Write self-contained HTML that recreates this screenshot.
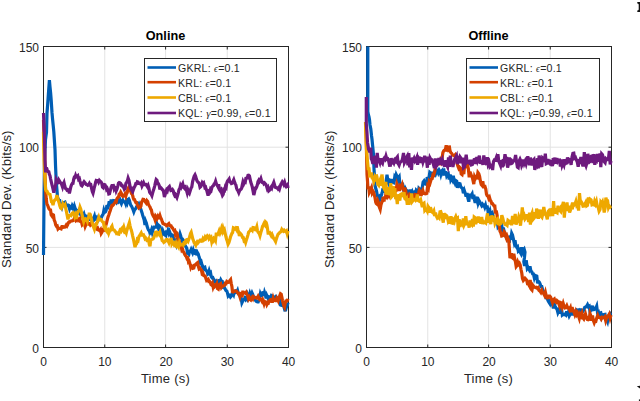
<!DOCTYPE html><html><head><meta charset="utf-8"><style>html,body{margin:0;padding:0;background:#fff;overflow:hidden}svg{display:block}text{font-family:"Liberation Sans",sans-serif;fill:#262626}</style></head><body>
<svg width="640" height="401" viewBox="0 0 640 401">
<rect width="640" height="401" fill="#fff"/>
<path d="M104.75 46V347M165.60 46V347M227.25 46V347M43 247.40H288M43 147.20H288" stroke="#e3e3e3" stroke-width="1" fill="none"/>
<rect x="43.5" y="46.5" width="245" height="301" fill="none" stroke="#262626" stroke-width="1"/>
<path d="M104.75 347.5v-3M104.75 46.5v3M165.60 347.5v-3M165.60 46.5v3M227.25 347.5v-3M227.25 46.5v3M43.5 247.40h3M288.5 247.40h-3M43.5 147.20h3M288.5 147.20h-3" stroke="#262626" stroke-width="1" fill="none"/>
<path d="M43.5,255.0 44.0,200.2 44.5,160.0 45.0,149.9 45.5,139.6 46.0,135.8 46.5,132.4 47.0,113.3 47.8,102.5 48.6,91.2 49.4,80.2 50.0,86.8 50.6,92.7 51.2,100.2 52.0,112.7 52.6,119.4 53.2,125.3 53.8,131.6 54.4,140.6 55.0,149.6 55.5,165.0 56.2,181.0 56.9,189.4 57.5,196.9 58.2,199.0 59.0,200.6 59.7,200.6 60.4,204.5 61.2,205.1 61.9,207.0 62.7,204.2 63.5,202.7 64.2,202.4 65.0,202.1 65.8,204.2 66.5,205.0 67.2,205.1 68.0,205.1 68.8,206.4 69.5,208.8 70.2,206.8 70.9,207.6 71.6,208.1 72.3,205.7 73.0,207.0 73.8,209.1 74.5,206.3 75.2,208.4 76.0,210.0 76.8,210.3 77.5,212.8 78.2,212.7 78.9,211.0 79.6,213.6 80.4,214.4 81.1,215.1 81.8,216.1 82.5,215.2 83.2,215.2 83.9,213.9 84.6,216.5 85.4,216.2 86.1,216.8 86.8,216.4 87.5,217.2 88.3,217.9 89.1,220.6 89.8,217.1 90.6,216.9 91.4,219.2 92.2,221.5 93.0,221.1 93.8,217.9 94.5,216.0 95.2,219.0 95.9,218.4 96.6,217.6 97.3,220.0 98.0,220.8 98.8,219.7 99.5,218.5 100.2,217.7 101.0,218.3 101.8,216.5 102.5,215.1 103.2,214.1 103.9,210.4 104.6,212.4 105.4,211.9 106.1,210.5 106.8,206.2 107.5,206.0 108.2,206.8 109.0,202.7 109.8,202.7 110.5,203.4 111.2,199.6 112.0,202.5 112.8,201.8 113.5,200.6 114.2,200.7 115.0,201.0 115.7,200.6 116.4,201.9 117.1,200.1 117.9,199.9 118.6,201.9 119.3,201.2 120.0,200.0 120.7,202.1 121.4,203.6 122.1,201.7 122.9,200.1 123.6,201.4 124.3,201.9 125.0,202.0 125.7,203.8 126.5,200.8 127.2,202.6 127.9,199.6 128.7,199.0 129.4,200.4 130.1,203.4 130.8,205.3 131.6,206.4 132.3,207.8 133.0,209.5 133.8,211.8 134.5,209.9 135.2,209.1 135.9,208.4 136.6,206.7 137.3,206.4 138.0,205.2 138.8,203.9 139.5,205.8 140.3,207.7 141.1,210.0 141.9,212.4 142.7,215.3 143.4,217.5 144.2,220.1 145.0,225.0 145.7,221.4 146.4,223.1 147.1,226.4 147.9,228.6 148.6,230.1 149.3,230.6 150.0,233.2 150.8,232.1 151.5,230.0 152.2,232.5 153.0,229.9 153.8,227.2 154.5,227.2 155.3,227.0 156.1,227.1 156.9,223.6 157.7,225.5 158.4,227.9 159.2,225.8 160.0,226.5 160.7,229.4 161.5,231.1 162.2,233.4 162.9,230.8 163.7,232.8 164.4,234.3 165.1,235.1 165.8,235.6 166.6,230.5 167.3,233.5 168.0,230.8 168.8,233.3 169.5,231.5 170.2,233.4 171.0,235.6 171.8,234.8 172.5,235.3 173.2,237.7 174.0,238.7 174.8,239.8 175.5,243.4 176.2,245.0 177.0,241.4 177.8,242.9 178.5,237.0 179.2,236.7 180.0,233.7 180.6,235.5 181.2,237.8 181.9,239.0 182.5,241.0 183.2,240.1 183.9,241.1 184.6,245.4 185.4,245.9 186.1,247.2 186.8,248.3 187.5,253.4 188.2,253.5 188.9,254.2 189.6,251.2 190.4,251.3 191.1,249.6 191.8,251.4 192.5,252.8 193.2,250.4 193.9,253.0 194.6,253.3 195.4,252.0 196.1,249.5 196.8,253.3 197.5,252.7 198.2,253.8 199.0,256.8 199.8,259.1 200.5,262.6 201.2,261.8 202.0,264.8 202.7,267.0 203.4,268.3 204.1,267.3 204.8,267.1 205.5,270.0 206.2,270.5 207.0,271.2 207.7,273.7 208.4,272.9 209.1,270.7 209.8,273.1 210.5,272.5 211.2,276.5 212.0,277.7 212.8,277.6 213.5,279.0 214.2,281.3 215.0,281.7 215.7,282.8 216.5,281.1 217.2,281.8 217.9,282.4 218.7,282.5 219.4,279.4 220.1,281.9 220.8,279.9 221.6,281.3 222.3,281.5 223.0,286.4 223.8,285.7 224.5,287.9 225.2,289.1 226.0,290.5 226.8,291.0 227.5,293.1 228.2,295.9 229.0,295.0 229.8,295.7 230.5,297.0 231.2,296.2 232.0,293.7 232.8,293.3 233.6,294.8 234.4,291.2 235.2,290.9 235.9,292.4 236.7,292.1 237.5,290.4 238.2,293.2 239.0,294.6 239.7,294.6 240.4,295.6 241.2,298.4 241.9,302.7 242.6,301.2 243.3,300.0 244.1,299.6 244.8,298.3 245.5,299.5 246.2,298.2 247.0,299.2 247.7,295.5 248.4,297.4 249.1,296.2 249.8,293.6 250.5,295.8 251.2,294.7 252.0,292.8 252.8,294.5 253.6,297.1 254.4,297.5 255.2,299.7 255.9,300.9 256.7,301.7 257.5,302.0 258.2,302.0 258.9,300.2 259.6,298.5 260.4,293.8 261.1,295.4 261.8,295.6 262.5,292.7 263.2,292.5 263.9,295.9 264.6,292.5 265.4,294.8 266.1,298.4 266.8,295.5 267.5,297.1 268.3,298.9 269.1,296.9 269.8,297.2 270.6,297.7 271.4,295.5 272.2,295.9 273.0,296.5 273.8,297.4 274.5,297.1 275.2,297.2 275.9,296.5 276.6,297.5 277.3,299.8 278.0,299.9 278.8,299.0 279.5,299.6 280.3,305.0 281.0,305.3 281.8,305.4 282.6,302.0 283.3,305.8 284.1,307.4 284.8,310.1 285.6,310.0 286.4,307.0 287.2,305.4 288.0,302.5" stroke="#005EB5" stroke-width="3.2" fill="none" stroke-linejoin="miter" stroke-linecap="butt"/>
<path d="M43.5,120.0 44.0,135.2 44.5,150.2 45.0,174.8 45.6,190.5 46.2,198.3 46.9,204.0 47.6,205.1 48.4,207.5 49.1,209.0 49.8,209.6 50.5,209.9 51.2,214.8 52.0,216.0 52.8,214.6 53.5,215.0 54.2,220.1 55.0,221.8 55.8,225.1 56.5,226.3 57.2,226.0 58.0,229.0 58.8,228.2 59.5,228.3 60.3,228.6 61.1,228.9 61.9,226.7 62.6,226.7 63.3,227.3 64.0,227.1 64.8,227.1 65.5,226.3 66.2,225.1 66.9,226.0 67.6,224.7 68.4,222.7 69.1,221.9 69.8,222.0 70.5,221.4 71.2,221.1 72.0,220.8 72.8,220.7 73.6,220.1 74.4,218.2 75.2,219.6 75.9,220.7 76.7,220.0 77.5,218.8 78.3,220.3 79.1,219.5 79.8,218.7 80.6,221.6 81.4,221.8 82.2,224.7 83.0,223.8 83.8,222.2 84.5,223.1 85.2,226.4 86.0,224.5 86.8,222.4 87.5,222.2 88.2,223.8 88.9,224.1 89.6,223.7 90.4,225.1 91.1,224.4 91.8,223.1 92.5,223.4 93.2,225.9 94.0,226.5 94.8,227.4 95.5,225.7 96.2,227.1 97.0,228.7 97.7,228.1 98.4,229.9 99.1,230.1 99.8,230.8 100.5,229.8 101.2,233.4 102.0,232.1 102.8,229.5 103.5,228.8 104.2,231.5 105.0,227.7 105.8,225.4 106.5,223.0 107.2,220.2 108.0,217.1 108.8,215.0 109.5,212.6 110.3,210.5 111.1,207.9 111.9,205.5 112.6,205.6 113.4,204.7 114.1,203.6 114.8,202.6 115.5,201.4 116.2,201.8 117.0,198.7 117.8,197.4 118.5,197.1 119.2,194.2 120.0,193.8 120.7,192.2 121.4,193.5 122.1,195.6 122.9,196.4 123.6,195.9 124.3,195.6 125.0,194.1 125.8,196.1 126.5,193.8 127.2,192.7 128.0,188.6 128.8,187.1 129.5,186.3 130.3,190.3 131.1,192.5 131.9,191.9 132.5,194.8 133.2,197.7 133.8,199.4 134.4,199.5 135.1,201.0 135.8,202.5 136.6,202.5 137.3,204.9 138.0,206.4 138.8,207.9 139.5,207.2 140.2,207.3 140.9,206.2 141.6,202.0 142.3,201.0 143.0,199.3 143.8,199.4 144.6,200.9 145.3,201.7 146.1,202.8 146.9,200.6 147.7,201.6 148.4,204.3 149.2,205.8 150.0,207.0 150.7,209.0 151.4,210.0 152.1,213.5 152.9,215.3 153.6,216.5 154.3,217.4 155.0,219.5 155.7,216.0 156.4,216.9 157.1,218.3 157.9,216.4 158.6,217.8 159.3,217.9 160.0,215.7 160.7,217.9 161.5,219.3 162.2,221.6 162.9,223.4 163.7,224.0 164.4,224.0 165.1,224.5 165.8,224.8 166.6,225.9 167.3,225.6 168.0,224.3 168.8,223.6 169.5,225.2 170.2,225.6 171.0,225.7 171.8,227.4 172.5,227.9 173.2,229.3 174.0,230.6 174.7,230.3 175.4,234.2 176.2,232.3 176.9,233.0 177.5,236.0 178.1,239.7 178.8,239.9 179.5,241.7 180.2,244.3 181.0,246.2 181.8,249.8 182.5,248.9 183.2,251.3 184.0,252.6 184.8,254.5 185.5,255.7 186.2,256.4 187.0,258.5 187.8,258.1 188.5,261.9 189.2,261.3 190.0,263.8 190.8,267.3 191.5,265.8 192.2,266.2 193.0,268.3 193.8,268.0 194.5,265.2 195.3,264.8 196.1,264.1 196.9,263.1 197.6,262.6 198.4,266.7 199.1,268.8 199.9,268.2 200.6,269.4 201.4,269.9 202.1,273.5 202.9,272.9 203.6,275.5 204.4,275.9 205.1,276.0 205.9,278.4 206.6,280.4 207.4,279.8 208.1,279.3 208.8,281.5 209.6,281.4 210.3,282.3 211.0,284.6 211.8,285.2 212.5,283.7 213.2,287.2 213.9,285.5 214.6,286.4 215.4,285.1 216.1,285.8 216.8,284.1 217.5,288.5 218.3,289.1 219.1,285.8 219.8,284.4 220.6,283.8 221.4,287.2 222.2,286.0 223.0,286.1 223.8,285.8 224.5,285.3 225.3,283.4 226.0,283.7 226.8,281.5 227.6,282.1 228.3,282.3 229.1,282.1 229.8,280.6 230.6,279.6 231.2,283.3 231.9,286.5 232.5,291.8 233.2,292.0 234.0,291.3 234.8,291.0 235.5,290.9 236.2,291.0 237.0,291.8 237.7,293.0 238.4,293.7 239.1,294.2 239.8,296.4 240.5,293.6 241.2,293.8 242.0,297.2 242.7,292.1 243.4,292.1 244.1,292.9 244.8,293.0 245.5,293.3 246.2,292.4 247.0,294.7 247.8,296.2 248.5,298.8 249.2,297.4 250.0,299.5 250.7,300.0 251.4,298.3 252.1,297.3 252.9,298.7 253.6,296.9 254.3,297.6 255.0,297.4 255.8,297.5 256.6,298.1 257.3,297.8 258.1,296.3 258.9,298.0 259.7,299.5 260.5,299.0 261.2,299.7 262.0,301.2 262.7,299.7 263.4,301.5 264.1,303.8 264.8,301.6 265.5,302.1 266.2,302.1 266.9,304.5 267.6,303.2 268.3,303.3 269.0,301.1 269.7,301.1 270.4,300.9 271.1,298.3 271.8,301.5 272.5,301.5 273.2,298.2 273.9,300.4 274.6,300.0 275.4,300.6 276.1,300.6 276.8,298.2 277.5,299.2 278.2,300.7 279.0,297.8 279.8,295.6 280.5,293.8 281.2,294.3 281.9,297.4 282.5,300.6 283.1,302.9 283.8,305.7 284.5,307.1 285.2,303.2 285.9,301.1 286.6,301.3 287.3,300.6 288.0,298.8" stroke="#D44000" stroke-width="3.2" fill="none" stroke-linejoin="miter" stroke-linecap="butt"/>
<path d="M43.5,132.0 44.0,159.4 44.5,169.9 45.0,180.1 45.6,189.4 46.3,190.9 47.1,191.4 47.8,193.3 48.5,193.6 49.3,194.2 50.0,194.5 50.8,198.5 51.5,201.7 52.2,201.9 53.0,205.2 53.8,201.6 54.6,200.3 55.3,199.5 56.1,199.1 56.9,195.1 57.6,197.8 58.4,200.7 59.1,202.8 59.9,206.0 60.6,208.0 61.3,208.5 62.1,206.2 62.8,204.0 63.5,205.5 64.3,205.8 65.0,204.8 65.8,208.8 66.5,212.0 67.2,215.3 68.0,219.4 68.8,216.0 69.5,215.4 70.2,215.3 71.0,215.6 71.8,213.7 72.5,212.9 73.2,212.5 74.0,214.1 74.8,216.8 75.5,215.1 76.2,219.0 77.0,214.4 77.8,212.6 78.5,211.1 79.2,210.6 80.0,207.1 80.8,209.1 81.5,212.5 82.2,215.3 83.0,218.6 83.7,221.5 84.4,219.3 85.1,218.9 85.9,219.8 86.6,219.5 87.3,221.2 88.0,218.1 88.7,217.5 89.3,212.8 89.9,216.4 90.6,215.8 91.4,219.1 92.1,222.5 92.9,224.7 93.6,227.2 94.4,229.3 95.1,226.6 95.9,224.6 96.6,224.2 97.3,221.9 98.0,219.7 98.8,217.3 99.5,219.3 100.3,219.7 101.1,219.5 101.9,220.9 102.7,221.9 103.5,222.3 104.2,227.1 105.0,228.5 105.8,227.8 106.5,231.1 107.2,232.0 108.0,230.7 108.7,233.1 109.3,231.4 110.0,230.9 110.6,229.2 111.2,227.5 112.0,226.2 112.8,229.6 113.5,229.8 114.2,230.0 115.0,231.4 115.8,232.0 116.5,233.5 117.2,233.2 118.0,234.1 118.8,234.2 119.4,232.1 120.0,230.5 120.8,231.3 121.5,228.9 122.2,228.1 123.0,229.6 123.8,227.2 124.4,229.4 125.0,232.2 125.6,231.9 126.2,233.1 127.0,229.9 127.8,227.5 128.6,225.0 129.4,222.5 130.0,225.5 130.7,228.6 131.3,230.1 131.9,232.3 132.7,236.1 133.4,239.0 134.2,242.9 135.0,247.1 135.8,244.6 136.6,243.8 137.3,239.7 138.1,240.4 138.9,236.6 139.7,235.4 140.5,234.1 141.2,232.9 142.0,235.1 142.8,235.1 143.5,234.8 144.2,236.3 145.0,238.5 145.7,237.8 146.4,238.7 147.1,240.7 147.9,240.7 148.6,239.3 149.3,244.4 150.0,246.2 150.8,239.8 151.6,239.5 152.3,239.1 153.1,238.9 153.9,237.5 154.7,235.0 155.5,232.4 156.2,232.2 157.0,234.3 157.8,232.5 158.5,232.4 159.2,234.0 160.0,232.3 160.8,235.6 161.5,237.6 162.2,240.6 163.0,241.2 163.8,242.4 164.5,241.8 165.2,241.4 166.0,239.8 166.8,239.5 167.5,239.6 168.2,241.1 168.9,242.6 169.6,240.2 170.4,240.3 171.1,238.0 171.8,243.4 172.5,242.0 173.2,243.1 174.0,244.6 174.8,243.2 175.5,245.6 176.2,246.3 177.0,243.6 177.8,245.3 178.6,246.8 179.4,243.0 180.2,245.1 180.9,244.8 181.7,244.8 182.5,244.5 183.2,245.1 183.9,243.0 184.6,243.4 185.4,241.4 186.1,242.0 186.8,239.7 187.5,239.6 188.2,240.9 189.0,238.7 189.8,236.4 190.5,233.6 191.2,232.3 192.0,235.6 192.8,238.9 193.5,240.7 194.2,242.7 195.0,244.0 195.7,245.2 196.4,243.0 197.1,241.9 197.9,243.1 198.6,242.2 199.3,241.1 200.0,240.2 200.8,240.2 201.5,241.2 202.2,241.1 203.0,238.8 203.8,240.1 204.5,239.5 205.2,237.3 205.9,238.4 206.7,236.9 207.4,235.8 208.1,236.5 208.8,238.3 209.6,236.8 210.3,238.3 211.0,237.5 211.8,242.0 212.5,240.2 213.2,240.9 214.0,238.1 214.8,238.7 215.5,240.2 216.2,233.9 217.0,233.8 217.8,234.3 218.5,232.8 219.2,230.8 220.0,233.1 220.7,231.4 221.5,228.5 222.2,230.8 222.9,228.1 223.7,231.0 224.4,229.9 225.1,233.0 225.9,236.5 226.6,239.2 227.4,241.5 228.1,244.2 228.9,242.7 229.6,240.4 230.4,237.3 231.1,235.3 231.9,233.4 232.6,232.5 233.4,227.7 234.1,228.0 234.9,228.8 235.6,228.1 236.4,229.5 237.1,226.4 237.9,229.7 238.6,231.8 239.4,236.0 240.2,233.2 240.9,233.9 241.7,235.2 242.5,237.4 243.3,237.6 244.1,240.8 244.8,240.3 245.6,242.6 246.4,239.9 247.1,237.7 247.9,235.1 248.6,232.3 249.4,231.3 250.1,230.8 250.8,229.2 251.6,229.4 252.3,230.3 253.0,227.6 253.8,227.7 254.5,229.1 255.2,229.7 256.0,229.1 256.8,226.8 257.5,230.8 258.1,232.1 258.8,233.0 259.4,233.9 260.0,235.7 260.6,233.4 261.2,231.1 261.9,229.1 262.5,226.3 263.2,225.3 264.0,223.6 264.8,224.8 265.5,221.9 266.2,222.6 266.9,225.1 267.5,228.4 268.1,233.1 268.9,233.1 269.7,232.7 270.5,234.4 271.2,235.7 272.0,234.3 272.7,236.0 273.4,238.2 274.2,238.7 274.9,240.2 275.6,241.5 276.2,239.4 276.9,237.2 277.5,235.7 278.2,234.0 278.9,233.5 279.6,232.6 280.3,232.0 281.0,231.6 281.8,229.5 282.6,230.7 283.4,231.3 284.2,230.2 285.0,231.1 285.8,231.8 286.5,231.0 287.2,233.6 288.0,230.7" stroke="#EEA800" stroke-width="3.2" fill="none" stroke-linejoin="miter" stroke-linecap="butt"/>
<path d="M43.5,113.0 44.0,126.1 44.5,139.2 45.0,160.1 45.6,172.3 46.4,167.4 47.2,169.8 48.0,171.6 48.8,171.8 49.4,174.4 50.0,175.7 50.6,178.8 51.4,182.4 52.2,185.7 53.0,188.9 53.8,192.7 54.4,190.0 55.0,187.8 55.6,185.2 56.2,179.9 56.9,181.4 57.5,181.8 58.1,182.2 58.8,179.8 59.5,180.9 60.2,182.6 61.0,182.9 61.8,184.9 62.5,186.9 63.2,184.2 64.0,182.5 64.8,186.0 65.5,188.4 66.2,188.8 67.0,190.1 67.8,189.7 68.6,190.5 69.4,193.3 70.1,190.1 70.8,187.0 71.6,184.6 72.3,183.4 73.0,183.3 73.7,179.2 74.3,177.3 75.0,177.4 75.6,175.5 76.2,177.0 77.0,176.7 77.8,175.9 78.6,179.3 79.4,178.6 80.0,181.1 80.6,183.3 81.2,185.2 82.0,185.8 82.7,184.6 83.4,182.7 84.1,181.6 84.8,182.4 85.5,183.3 86.2,184.4 87.0,184.8 87.8,185.4 88.6,184.9 89.4,183.5 90.1,184.9 90.8,184.7 91.6,188.4 92.3,191.6 93.0,193.2 93.7,190.3 94.3,187.5 95.0,185.2 95.6,182.2 96.2,180.5 97.0,180.8 97.8,180.6 98.6,182.2 99.4,180.4 100.2,181.3 101.0,181.9 101.7,183.0 102.5,187.2 103.1,187.7 103.8,185.2 104.4,184.6 105.0,184.8 105.8,186.7 106.5,189.3 107.2,188.4 108.0,190.5 108.8,194.0 109.5,193.8 110.3,190.7 111.1,187.2 111.9,185.5 112.6,185.5 113.4,185.4 114.1,188.6 114.8,187.1 115.5,187.6 116.2,190.8 117.0,188.9 117.8,186.2 118.5,183.1 119.2,182.5 120.0,182.8 120.7,183.4 121.5,185.4 122.2,185.4 122.9,186.9 123.7,187.4 124.4,189.3 125.1,188.6 125.9,183.4 126.6,182.3 127.4,180.9 128.1,178.1 128.9,180.3 129.6,183.9 130.4,188.0 131.1,188.9 131.9,190.3 132.7,186.8 133.4,189.7 134.2,187.5 135.0,186.1 135.8,183.7 136.6,183.7 137.3,181.8 138.1,182.1 138.9,183.4 139.7,183.5 140.5,184.1 141.2,183.1 142.0,186.0 142.8,184.4 143.6,182.7 144.4,184.6 145.1,184.6 145.9,184.5 146.6,185.5 147.4,186.8 148.1,185.5 148.9,188.1 149.6,192.1 150.4,193.5 151.1,194.1 151.9,195.7 152.6,193.1 153.3,190.6 154.1,188.4 154.8,185.6 155.5,182.2 156.2,179.6 157.0,180.4 157.7,183.5 158.4,183.6 159.2,185.5 159.9,189.6 160.6,187.5 161.4,188.3 162.1,189.5 162.9,189.9 163.6,192.0 164.4,196.9 165.1,194.9 165.8,191.6 166.5,189.9 167.3,191.0 168.0,188.4 168.7,187.1 169.4,186.4 170.2,188.7 170.9,190.6 171.7,190.4 172.5,189.6 173.2,190.6 174.0,194.0 174.7,195.5 175.4,194.6 176.2,196.3 176.9,197.6 177.6,195.4 178.3,192.8 179.0,189.7 179.8,188.5 180.5,185.6 181.2,187.1 181.9,185.4 182.7,183.8 183.4,187.1 184.2,187.9 185.0,185.0 185.7,189.7 186.5,190.4 187.2,192.9 187.9,190.0 188.7,192.1 189.4,193.2 190.2,190.7 191.0,188.2 191.8,187.0 192.6,181.7 193.4,178.8 194.2,176.1 195.0,174.8 195.7,176.5 196.4,179.2 197.1,180.9 197.9,182.1 198.6,182.6 199.3,184.0 200.0,187.2 200.8,186.5 201.5,184.6 202.2,182.7 203.0,183.8 203.7,183.0 204.3,185.2 204.9,187.5 205.6,187.1 206.2,189.3 206.8,190.7 207.5,193.3 208.1,195.6 208.9,191.5 209.7,192.2 210.5,189.2 211.2,190.1 212.0,187.1 212.7,186.1 213.4,185.6 214.2,183.8 214.9,183.3 215.6,181.3 216.4,184.0 217.1,185.0 217.9,186.6 218.7,184.2 219.4,189.6 220.2,190.8 221.0,189.8 221.7,193.0 222.5,195.4 223.2,194.4 223.9,189.8 224.6,190.3 225.4,186.7 226.1,187.5 226.8,182.9 227.5,181.1 228.3,180.1 229.1,179.0 229.8,181.7 230.6,182.4 231.4,183.6 232.2,183.3 233.0,181.5 233.8,179.7 234.5,181.9 235.2,183.6 235.9,185.0 236.6,188.3 237.3,190.0 238.0,190.8 238.8,192.7 239.5,190.9 240.2,189.9 240.9,189.3 241.6,188.3 242.3,184.9 243.0,181.8 243.8,183.7 244.5,182.2 245.2,182.4 245.9,178.3 246.6,178.1 247.3,177.9 248.0,175.4 248.7,175.2 249.4,175.8 250.1,179.1 250.8,182.4 251.6,184.6 252.3,187.1 253.0,190.8 253.8,195.0 254.5,192.4 255.2,188.3 255.9,188.4 256.6,187.1 257.3,185.0 258.0,181.7 258.8,180.3 259.5,181.5 260.2,180.3 260.9,178.6 261.6,181.1 262.3,182.3 263.0,182.3 263.8,183.7 264.5,182.9 265.2,183.8 265.9,184.4 266.6,186.2 267.3,188.7 268.0,187.6 268.8,190.8 269.5,190.2 270.2,188.7 270.9,187.5 271.6,188.3 272.3,185.5 273.0,184.4 273.8,182.4 274.5,184.8 275.2,187.2 275.9,187.4 276.6,187.9 277.3,187.8 278.0,188.8 278.8,187.6 279.5,189.0 280.2,186.6 280.9,184.2 281.6,183.0 282.3,181.7 283.0,182.7 283.8,184.4 284.6,182.3 285.4,185.2 286.2,186.6 287.0,185.7 287.5,185.0 288.0,188.0" stroke="#6E1A7E" stroke-width="3.2" fill="none" stroke-linejoin="miter" stroke-linecap="butt"/>
<text x="39" y="353.00" font-size="12" text-anchor="end">0</text>
<text x="39" y="252.67" font-size="12" text-anchor="end">50</text>
<text x="39" y="152.33" font-size="12" text-anchor="end">100</text>
<text x="39" y="52.00" font-size="12" text-anchor="end">150</text>
<text x="43.60" y="365.6" font-size="12" text-anchor="middle">0</text>
<text x="104.85" y="365.6" font-size="12" text-anchor="middle">10</text>
<text x="166.10" y="365.6" font-size="12" text-anchor="middle">20</text>
<text x="227.35" y="365.6" font-size="12" text-anchor="middle">30</text>
<text x="288.60" y="365.6" font-size="12" text-anchor="middle">40</text>
<text x="165.50" y="383.2" font-size="13" letter-spacing="0.25" text-anchor="middle">Time (s)</text>
<text transform="translate(11.399999999999999,199.2) rotate(-90)" font-size="13.2" letter-spacing="0.1" text-anchor="middle">Standard Dev. (Kbits/s)</text>
<text x="165.50" y="40" font-size="12.7" font-weight="bold" text-anchor="middle" style="fill:#000">Online</text>
<rect x="144.5" y="58.5" width="132" height="63" fill="#fff" stroke="#262626" stroke-width="1"/>
<path d="M147.5 67.50H176" stroke="#005EB5" stroke-width="2.6"/>
<text x="178" y="71.80" font-size="10.6" letter-spacing="0.22">GKRL: <tspan style="font-family:Liberation Serif,serif;font-style:italic" font-size="9.5">ϵ</tspan>=0.1</text>
<path d="M147.5 82.20H176" stroke="#D44000" stroke-width="2.6"/>
<text x="178" y="86.50" font-size="10.6" letter-spacing="0.22">KRL: <tspan style="font-family:Liberation Serif,serif;font-style:italic" font-size="9.5">ϵ</tspan>=0.1</text>
<path d="M147.5 97.50H176" stroke="#EEA800" stroke-width="2.6"/>
<text x="178" y="101.80" font-size="10.6" letter-spacing="0.22">CBL: <tspan style="font-family:Liberation Serif,serif;font-style:italic" font-size="9.5">ϵ</tspan>=0.1</text>
<path d="M147.5 113.00H176" stroke="#6E1A7E" stroke-width="2.6"/>
<text x="178" y="117.30" font-size="10.6" letter-spacing="0.22">KQL: <tspan style="font-family:Liberation Serif,serif;font-style:italic" font-size="11">γ</tspan>=0.99, <tspan style="font-family:Liberation Serif,serif;font-style:italic" font-size="9.5">ϵ</tspan>=0.1</text>
<path d="M427.75 46V347M488.60 46V347M550.25 46V347M366 247.40H611M366 147.20H611" stroke="#e3e3e3" stroke-width="1" fill="none"/>
<rect x="366.5" y="46.5" width="245" height="301" fill="none" stroke="#262626" stroke-width="1"/>
<path d="M427.75 347.5v-3M427.75 46.5v3M488.60 347.5v-3M488.60 46.5v3M550.25 347.5v-3M550.25 46.5v3M366.5 247.40h3M611.5 247.40h-3M366.5 147.20h3M611.5 147.20h-3" stroke="#262626" stroke-width="1" fill="none"/>
<path d="M367.8,46.5 367.8,111.5 368.4,114.7 369.0,116.8 369.5,119.6 370.0,125.0 370.8,129.0 371.5,135.5 372.0,139.3 372.5,144.5 373.0,149.4 373.5,154.6 374.0,168.8 374.5,177.1 375.0,185.5 375.8,188.8 376.5,191.0 377.2,195.1 378.0,197.6 378.9,196.7 379.7,199.9 380.6,197.5 381.4,195.3 382.2,192.5 383.0,188.2 383.8,191.4 384.6,191.2 385.4,186.5 386.2,181.3 387.0,174.8 387.8,180.0 388.5,182.2 389.2,179.7 390.0,180.1 390.8,182.1 391.6,182.0 392.4,179.1 393.2,182.6 394.0,182.9 394.8,176.8 395.5,177.8 396.2,174.7 397.0,176.4 397.8,179.7 398.5,177.8 399.2,176.8 400.0,185.4 400.8,184.9 401.6,187.9 402.4,182.8 403.2,188.3 404.0,191.8 404.8,192.9 405.6,189.0 406.4,190.6 407.2,190.7 408.0,194.2 408.8,194.7 409.7,192.8 410.5,189.6 411.3,194.0 412.2,191.9 413.0,194.3 413.8,193.2 414.7,195.6 415.5,194.4 416.3,190.3 417.2,191.2 418.0,194.0 418.9,188.4 419.7,189.2 420.6,190.1 421.4,189.6 422.3,187.2 423.1,182.1 424.0,180.9 424.8,182.8 425.6,182.1 426.4,185.5 427.2,177.1 428.0,179.4 428.9,178.4 429.8,172.4 430.7,173.2 431.6,175.0 432.5,173.2 433.3,173.4 434.2,174.4 435.0,171.3 435.8,173.4 436.7,170.9 437.5,170.4 438.3,172.6 439.2,170.2 440.0,171.6 440.8,174.5 441.7,171.1 442.5,170.2 443.3,172.9 444.2,171.5 445.0,175.3 445.8,171.2 446.7,175.8 447.5,174.5 448.3,173.8 449.2,179.5 450.0,174.5 450.8,179.9 451.7,178.2 452.5,179.9 453.3,175.7 454.2,181.0 455.0,183.0 455.8,180.6 456.7,181.2 457.5,187.9 458.3,184.3 459.2,183.5 460.0,183.8 460.8,187.0 461.7,187.9 462.5,188.5 463.4,193.2 464.3,190.4 465.2,193.1 466.1,196.7 467.0,192.9 467.9,198.2 468.8,201.7 469.6,195.2 470.4,195.2 471.2,195.6 472.1,194.0 472.9,199.1 473.8,194.7 474.5,199.9 475.2,203.0 476.0,197.0 476.8,199.7 477.5,196.9 478.3,203.2 479.2,201.0 480.0,202.4 480.8,203.8 481.7,205.6 482.5,204.4 483.2,205.7 484.0,205.3 484.8,207.4 485.5,205.4 486.2,208.6 487.0,205.5 487.8,209.2 488.5,215.8 489.2,213.3 490.0,211.0 490.8,215.0 491.5,213.6 492.2,212.9 493.0,215.7 493.8,220.2 494.6,220.8 495.4,220.7 496.3,219.9 497.1,220.4 498.0,226.7 498.9,225.5 499.8,223.4 500.7,221.3 501.6,223.3 502.5,232.6 503.3,227.7 504.2,231.6 505.0,234.7 505.8,236.2 506.7,238.1 507.5,237.9 508.3,237.5 509.2,242.8 510.0,237.2 510.8,239.4 511.7,233.3 512.5,235.0 513.3,238.6 514.2,242.7 515.0,240.3 515.8,245.5 516.7,247.2 517.5,246.6 518.3,250.9 519.2,250.0 520.0,251.8 520.8,253.3 521.7,247.3 522.5,252.3 523.3,250.6 524.2,249.3 525.0,252.1 524.4,258.0 523.8,261.8 524.6,266.0 525.5,261.8 526.4,261.7 527.3,268.7 528.2,267.6 529.1,269.4 530.0,266.4 530.9,271.0 531.7,271.6 532.6,273.8 533.4,273.9 534.3,277.8 535.1,275.4 536.0,275.8 536.8,276.1 537.6,283.4 538.4,281.4 539.2,282.0 540.0,283.7 540.9,286.5 541.8,286.5 542.7,290.2 543.6,291.4 544.5,293.2 545.4,294.0 546.2,297.9 547.1,298.2 548.0,300.5 548.9,302.1 549.8,303.5 550.7,299.2 551.6,303.4 552.5,304.3 553.4,308.5 554.3,304.4 555.2,306.5 556.1,308.3 557.0,309.0 557.9,312.6 558.8,310.5 559.6,313.7 560.5,308.9 561.4,308.0 562.3,314.9 563.2,314.2 564.1,314.6 565.0,314.1 565.8,314.9 566.7,311.3 567.5,315.7 568.3,312.9 569.2,316.0 570.0,314.4 570.9,309.4 571.7,310.2 572.6,315.3 573.4,312.8 574.3,311.7 575.1,312.7 576.0,311.1 576.9,310.0 577.8,310.6 578.6,310.1 579.5,312.4 580.4,308.7 581.2,311.7 582.1,311.7 583.0,311.4 583.9,309.7 584.8,307.3 585.7,307.0 586.6,306.2 587.5,304.6 588.3,306.6 589.2,306.1 590.0,311.6 590.8,310.3 591.7,308.5 592.5,305.7 593.3,309.7 594.2,309.6 595.0,308.3 595.8,308.4 596.7,306.2 597.5,312.4 598.3,311.9 599.2,317.9 600.0,313.0 600.8,312.8 601.7,316.8 602.5,314.8 603.3,315.2 604.2,314.5 605.0,314.4 605.8,319.5 606.7,319.5 607.5,321.5 608.4,316.5 609.2,316.3 610.1,313.7 611.0,315.0" stroke="#005EB5" stroke-width="3.2" fill="none" stroke-linejoin="miter" stroke-linecap="butt"/>
<path d="M366.0,125.0 366.5,152.1 367.0,174.3 367.5,180.8 368.0,189.4 368.7,186.3 369.3,192.2 370.0,190.7 370.8,189.7 371.5,187.9 372.2,192.7 373.0,191.2 373.7,192.4 374.3,194.8 375.0,197.7 375.7,202.0 376.3,203.5 377.0,204.1 377.8,201.0 378.6,203.1 379.4,207.4 380.2,209.4 381.0,204.8 381.8,202.2 382.5,201.2 383.2,197.0 384.0,201.6 384.7,196.4 385.3,199.4 386.0,192.5 386.9,192.3 387.7,195.2 388.6,192.6 389.4,195.3 390.3,193.3 391.1,190.0 392.0,193.1 392.8,193.3 393.7,186.7 394.5,193.6 395.3,190.8 396.2,190.5 397.0,184.1 397.9,186.3 398.8,187.5 399.6,191.0 400.5,186.0 401.4,187.0 402.2,184.8 403.1,188.8 404.0,190.7 404.8,187.6 405.6,190.7 406.4,194.6 407.2,198.4 408.0,197.8 408.8,196.0 409.5,194.4 410.2,195.2 411.0,196.3 411.8,197.7 412.7,196.9 413.5,200.2 414.3,197.0 415.2,193.2 416.0,198.2 416.9,197.3 417.7,195.2 418.6,193.0 419.4,190.2 420.3,191.6 421.1,195.9 422.0,192.4 422.8,190.5 423.6,193.3 424.4,193.3 425.2,193.8 426.0,193.6 426.8,193.3 427.6,186.5 428.4,188.0 429.2,182.0 430.0,183.3 430.8,180.6 431.5,178.8 432.2,178.5 433.0,174.6 433.8,175.0 434.6,172.2 435.4,168.0 436.2,163.8 437.1,162.0 437.9,161.2 438.8,160.7 439.6,159.9 440.4,165.3 441.2,159.6 442.1,157.7 442.9,152.5 443.8,150.8 444.6,150.0 445.4,149.5 446.2,145.3 447.0,151.6 447.8,148.1 448.5,152.0 449.2,145.6 450.0,150.7 450.8,152.6 451.7,153.4 452.5,155.1 453.3,155.3 454.2,155.8 455.0,155.0 455.8,158.2 456.5,159.6 457.2,164.0 458.0,166.5 458.8,168.4 459.6,167.3 460.4,168.1 461.2,173.9 462.1,174.6 462.9,171.1 463.8,174.1 464.5,166.5 465.3,163.5 466.1,165.0 466.9,162.9 467.7,165.4 468.4,169.0 469.2,177.3 470.0,171.7 470.8,174.0 471.5,176.1 472.2,177.0 473.0,180.5 473.8,184.1 474.6,176.8 475.4,178.5 476.2,176.9 477.1,177.4 477.9,172.5 478.8,173.7 479.6,176.3 480.4,181.2 481.2,184.5 482.0,185.4 482.8,181.2 483.5,186.3 484.2,187.0 485.0,186.7 485.8,189.2 486.5,194.3 487.2,195.8 488.0,196.1 488.8,198.6 489.5,197.5 490.2,200.0 491.0,201.3 491.8,203.7 492.5,203.7 493.2,204.7 494.0,205.9 494.8,206.0 495.5,213.5 496.2,210.5 497.1,215.3 498.0,221.5 498.7,224.4 499.3,225.7 500.0,231.2 500.8,232.8 501.7,236.0 502.5,235.8 503.3,235.4 504.2,231.8 505.0,232.8 505.8,236.6 506.5,238.5 507.2,236.5 508.0,238.7 508.8,240.7 509.4,249.3 510.0,258.2 510.8,256.2 511.5,253.2 512.2,257.7 513.0,258.3 513.8,253.8 514.6,258.2 515.4,261.6 516.2,266.6 517.0,265.6 517.8,262.2 518.6,264.2 519.4,263.2 520.2,264.9 521.0,269.5 521.7,272.6 522.5,278.5 523.3,280.5 524.2,279.4 525.0,278.3 525.8,279.1 526.7,280.2 527.5,283.8 528.4,283.9 529.3,285.6 530.2,280.0 531.1,289.1 532.0,290.1 532.9,285.3 533.8,286.5 534.6,287.1 535.5,287.5 536.4,287.3 537.3,288.3 538.2,287.6 539.1,290.6 540.0,291.2 540.9,292.5 541.8,290.5 542.7,292.8 543.6,293.5 544.5,295.3 545.4,292.3 546.2,295.7 547.1,297.8 548.0,297.7 548.9,296.1 549.8,296.1 550.7,297.2 551.6,300.0 552.5,302.6 553.4,299.7 554.3,299.0 555.2,301.8 556.1,302.4 557.0,300.6 557.9,301.5 558.8,303.6 559.6,305.9 560.5,302.4 561.4,302.8 562.3,306.6 563.2,303.5 564.1,306.5 565.0,307.8 565.9,307.3 566.8,305.6 567.7,307.9 568.6,307.9 569.5,309.8 570.4,307.8 571.2,312.2 572.1,307.1 573.0,310.4 573.9,311.7 574.8,314.4 575.7,311.7 576.6,314.5 577.5,312.9 578.4,315.8 579.3,318.5 580.2,314.4 581.1,316.1 582.0,313.5 582.9,317.7 583.8,318.9 584.6,316.6 585.5,314.0 586.4,317.3 587.3,319.4 588.2,319.7 589.1,319.3 590.0,313.7 590.8,315.8 591.7,320.8 592.5,315.6 593.3,320.4 594.2,322.7 595.0,320.6 595.9,321.0 596.8,317.7 597.7,315.3 598.6,317.4 599.5,317.3 600.4,317.5 601.2,319.0 602.1,317.2 603.0,317.5 603.9,317.9 604.8,316.9 605.7,320.7 606.6,317.8 607.5,316.6 608.4,315.5 609.2,314.2 610.1,318.1 611.0,315.0" stroke="#D44000" stroke-width="3.2" fill="none" stroke-linejoin="miter" stroke-linecap="butt"/>
<path d="M365.5,122.0 365.8,133.8 366.5,149.4 367.0,155.9 367.5,161.5 368.2,168.7 369.0,168.8 369.8,176.0 370.6,175.9 371.4,172.4 372.2,178.0 373.0,178.7 373.8,181.2 374.6,178.2 375.4,181.3 376.2,174.6 377.0,177.1 377.8,184.0 378.7,185.1 379.5,181.5 380.3,179.5 381.2,185.7 382.0,174.5 382.8,180.6 383.5,187.4 384.2,188.8 385.0,184.3 385.8,181.9 386.7,194.6 387.5,190.6 388.3,187.4 389.2,191.5 390.0,195.2 390.8,183.1 391.6,196.8 392.4,195.9 393.2,186.1 394.0,196.8 394.8,188.1 395.7,199.1 396.5,196.9 397.3,204.1 398.2,194.3 399.0,197.0 399.8,200.6 400.7,194.4 401.5,194.0 402.3,195.0 403.2,195.9 404.0,192.1 404.8,198.4 405.7,199.3 406.5,198.3 407.3,204.8 408.2,198.2 409.0,204.7 409.8,198.2 410.7,203.1 411.5,193.5 412.3,201.4 413.2,200.2 414.0,199.2 414.8,199.1 415.7,200.4 416.5,199.4 417.3,194.4 418.2,200.5 419.0,201.0 419.8,201.4 420.7,199.9 421.5,203.5 422.3,207.2 423.2,203.8 424.0,203.2 424.8,210.4 425.6,209.5 426.4,209.8 427.2,211.2 428.0,206.3 428.8,207.5 429.6,212.7 430.4,207.3 431.2,209.6 432.1,212.0 432.9,212.7 433.8,211.0 434.6,216.1 435.5,212.5 436.4,216.3 437.3,218.1 438.2,217.2 439.1,218.1 440.0,211.8 440.8,211.6 441.7,214.4 442.5,218.6 443.3,222.6 444.2,213.1 445.0,218.9 445.8,215.0 446.7,215.7 447.5,217.6 448.3,221.4 449.2,220.0 450.0,223.7 450.8,216.1 451.7,223.0 452.5,223.2 453.3,220.3 454.2,221.8 455.0,218.2 455.8,216.5 456.7,219.0 457.5,218.3 458.3,231.2 459.2,219.1 460.0,226.9 460.8,221.8 461.7,222.3 462.5,223.9 463.3,218.5 464.2,224.7 465.0,222.9 465.8,216.1 466.7,223.8 467.5,223.7 468.3,223.5 469.2,227.6 470.0,220.5 470.8,223.9 471.7,224.8 472.5,218.9 473.3,226.5 474.2,217.0 475.0,217.6 475.8,224.2 476.7,218.4 477.5,222.0 478.3,216.5 479.2,222.7 480.0,218.4 480.8,223.7 481.7,217.0 482.5,224.1 483.3,221.5 484.2,222.7 485.0,222.3 485.8,223.0 486.7,217.7 487.5,213.3 488.3,222.6 489.2,219.1 490.0,220.9 490.8,224.0 491.7,215.3 492.5,219.6 493.3,220.1 494.2,218.5 495.0,223.4 495.8,221.7 496.7,219.2 497.5,218.6 498.3,225.0 499.2,219.7 500.0,224.1 500.9,223.6 501.8,215.1 502.7,218.0 503.6,221.9 504.5,223.1 505.4,224.6 506.2,224.6 507.1,225.4 508.0,220.3 508.9,220.9 509.8,224.4 510.7,220.0 511.6,225.3 512.5,215.8 513.4,223.7 514.3,220.6 515.2,214.0 516.1,224.5 517.0,221.9 517.9,220.7 518.8,216.6 519.6,218.7 520.5,225.7 521.4,217.1 522.3,207.4 523.2,216.7 524.1,215.3 525.0,219.0 525.9,217.8 526.8,215.6 527.7,215.5 528.6,222.0 529.5,212.7 530.4,224.6 531.2,215.3 532.1,213.0 533.0,219.4 533.9,218.3 534.8,212.2 535.7,218.3 536.6,208.7 537.5,211.7 538.4,218.8 539.3,213.7 540.2,209.7 541.1,216.0 542.0,217.2 542.9,213.6 543.8,207.0 544.6,212.0 545.5,214.6 546.4,215.6 547.3,219.3 548.2,211.5 549.1,210.5 550.0,211.9 550.9,216.1 551.8,208.2 552.7,216.1 553.6,201.2 554.5,213.8 555.4,208.3 556.2,212.2 557.1,212.8 558.0,205.8 558.9,209.5 559.8,210.5 560.7,211.5 561.6,205.9 562.5,205.4 563.4,201.9 564.3,217.7 565.2,207.7 566.1,207.3 567.0,202.5 567.9,211.1 568.8,205.6 569.6,212.5 570.5,210.1 571.4,206.9 572.3,209.3 573.2,202.4 574.1,205.0 575.0,203.9 575.9,201.3 576.8,205.8 577.7,205.0 578.6,210.6 579.5,193.2 580.4,202.7 581.2,201.7 582.1,203.2 583.0,206.2 583.9,206.0 584.8,204.5 585.7,202.6 586.6,205.9 587.5,205.3 588.4,197.4 589.3,203.2 590.2,199.3 591.1,200.0 592.0,204.9 592.9,204.6 593.8,204.9 594.6,201.4 595.5,203.9 596.4,201.4 597.3,206.2 598.2,207.3 599.1,211.2 600.0,209.6 600.8,202.2 601.7,203.5 602.5,201.9 603.4,206.4 604.2,212.5 605.1,208.0 605.9,197.6 606.8,201.1 607.6,201.0 608.5,207.6 609.3,205.9 610.2,207.0 611.0,206.0" stroke="#EEA800" stroke-width="3.2" fill="none" stroke-linejoin="miter" stroke-linecap="butt"/>
<path d="M366.3,97.0 366.3,124.0 366.9,131.5 367.5,142.4 368.0,145.4 368.5,149.1 369.2,150.6 370.0,149.9 370.7,147.6 371.3,158.9 372.0,160.2 372.9,164.0 373.8,159.4 374.6,157.2 375.5,157.0 376.4,167.6 377.2,152.9 378.1,160.7 379.0,160.1 379.9,162.5 380.8,158.4 381.6,162.0 382.5,163.3 383.4,159.4 384.2,158.2 385.1,159.3 386.0,156.1 386.9,159.2 387.8,158.8 388.6,160.8 389.5,165.3 390.4,165.2 391.2,158.2 392.1,162.4 393.0,161.2 393.9,163.0 394.8,160.1 395.6,161.1 396.5,158.1 397.4,156.9 398.2,163.5 399.1,165.2 400.0,162.6 400.9,161.8 401.8,161.1 402.6,158.3 403.5,153.0 404.4,162.8 405.3,161.0 406.2,158.0 407.1,156.4 407.9,165.4 408.8,153.1 409.7,167.4 410.6,162.9 411.5,169.9 412.4,157.5 413.2,160.4 414.1,158.4 415.0,161.1 415.9,159.7 416.8,157.6 417.6,164.9 418.5,157.5 419.4,158.6 420.3,162.9 421.2,158.6 422.1,159.0 422.9,162.2 423.8,159.3 424.7,155.8 425.6,160.4 426.5,160.0 427.4,167.7 428.2,156.6 429.1,164.8 430.0,157.9 430.9,159.6 431.8,159.7 432.6,162.1 433.5,164.5 434.4,168.0 435.3,158.5 436.2,166.3 437.1,165.0 437.9,164.3 438.8,158.0 439.7,164.6 440.6,160.6 441.5,162.4 442.4,159.9 443.2,163.7 444.1,165.5 445.0,165.5 445.9,160.2 446.8,165.0 447.6,166.8 448.5,157.3 449.4,166.9 450.3,155.7 451.2,163.2 452.1,163.4 452.9,166.9 453.8,162.1 454.7,159.1 455.6,157.8 456.5,156.0 457.4,164.1 458.2,160.1 459.1,158.1 460.0,163.1 460.9,158.0 461.8,159.3 462.6,159.2 463.5,167.7 464.4,166.9 465.3,160.5 466.2,154.8 467.1,162.2 467.9,161.4 468.8,162.5 469.7,163.4 470.6,159.9 471.5,164.9 472.4,164.6 473.2,162.1 474.1,159.6 475.0,159.3 475.9,164.0 476.8,156.9 477.6,160.7 478.5,158.3 479.4,155.7 480.3,163.8 481.2,161.3 482.1,161.5 482.9,164.9 483.8,155.4 484.7,161.1 485.6,162.6 486.5,164.8 487.4,157.1 488.2,164.3 489.1,162.4 490.0,166.9 490.9,166.1 491.8,163.7 492.6,170.1 493.5,161.6 494.4,159.9 495.3,160.2 496.2,157.8 497.1,161.5 497.9,154.1 498.8,161.3 499.7,163.4 500.6,165.6 501.5,160.3 502.4,167.3 503.2,159.1 504.1,161.2 505.0,154.2 505.9,158.7 506.8,158.6 507.6,167.6 508.5,163.9 509.4,157.5 510.3,163.9 511.2,163.7 512.1,161.0 512.9,162.0 513.8,160.7 514.7,159.8 515.6,155.0 516.5,161.6 517.4,167.0 518.2,167.6 519.1,160.9 520.0,159.1 520.9,161.2 521.7,165.5 522.6,163.4 523.5,159.7 524.3,163.4 525.2,161.2 526.1,164.0 527.0,160.4 527.8,156.3 528.7,162.2 529.6,165.0 530.4,157.7 531.3,161.6 532.2,165.4 533.0,160.5 533.9,159.5 534.8,169.9 535.7,165.2 536.5,166.0 537.4,158.3 538.3,168.4 539.1,155.5 540.0,160.0 540.9,164.7 541.8,166.9 542.6,158.0 543.5,158.9 544.4,162.1 545.3,153.7 546.2,163.6 547.1,163.1 547.9,159.1 548.8,162.8 549.7,163.6 550.6,161.6 551.5,162.3 552.4,166.0 553.2,158.2 554.1,160.5 555.0,157.7 555.9,163.8 556.8,158.2 557.7,161.6 558.6,160.3 559.5,160.1 560.4,166.5 561.2,159.5 562.1,165.3 563.0,163.0 563.9,165.0 564.8,159.2 565.7,163.5 566.6,162.8 567.5,157.5 568.4,160.9 569.3,159.4 570.2,159.8 571.1,164.9 572.0,157.1 572.9,153.4 573.8,153.2 574.6,158.2 575.5,157.5 576.4,160.0 577.3,162.2 578.2,166.8 579.1,161.2 580.0,161.8 580.9,157.1 581.7,162.2 582.6,165.1 583.5,165.0 584.3,152.2 585.2,163.2 586.1,165.8 587.0,162.8 587.8,153.8 588.7,158.4 589.6,161.8 590.4,161.1 591.3,156.3 592.2,156.0 593.0,163.1 593.9,154.2 594.8,164.8 595.7,159.3 596.5,160.3 597.4,154.0 598.3,156.8 599.1,161.7 600.0,153.3 600.8,167.1 601.7,153.9 602.5,154.8 603.4,159.8 604.2,161.6 605.1,162.7 605.9,158.6 606.8,159.4 607.6,159.5 608.5,158.3 609.3,150.8 610.2,164.5 611.0,161.0" stroke="#6E1A7E" stroke-width="3.2" fill="none" stroke-linejoin="miter" stroke-linecap="butt"/>
<text x="362" y="353.00" font-size="12" text-anchor="end">0</text>
<text x="362" y="252.67" font-size="12" text-anchor="end">50</text>
<text x="362" y="152.33" font-size="12" text-anchor="end">100</text>
<text x="362" y="52.00" font-size="12" text-anchor="end">150</text>
<text x="366.60" y="365.6" font-size="12" text-anchor="middle">0</text>
<text x="427.85" y="365.6" font-size="12" text-anchor="middle">10</text>
<text x="489.10" y="365.6" font-size="12" text-anchor="middle">20</text>
<text x="550.35" y="365.6" font-size="12" text-anchor="middle">30</text>
<text x="611.60" y="365.6" font-size="12" text-anchor="middle">40</text>
<text x="488.50" y="383.2" font-size="13" letter-spacing="0.25" text-anchor="middle">Time (s)</text>
<text transform="translate(334.4,199.2) rotate(-90)" font-size="13.2" letter-spacing="0.1" text-anchor="middle">Standard Dev. (Kbits/s)</text>
<text x="488.50" y="40" font-size="12.7" font-weight="bold" text-anchor="middle" style="fill:#000">Offline</text>
<rect x="466.5" y="58.5" width="133" height="63" fill="#fff" stroke="#262626" stroke-width="1"/>
<path d="M469.5 67.50H498" stroke="#005EB5" stroke-width="2.6"/>
<text x="500" y="71.80" font-size="10.6" letter-spacing="0.22">GKRL: <tspan style="font-family:Liberation Serif,serif;font-style:italic" font-size="9.5">ϵ</tspan>=0.1</text>
<path d="M469.5 82.20H498" stroke="#D44000" stroke-width="2.6"/>
<text x="500" y="86.50" font-size="10.6" letter-spacing="0.22">KRL: <tspan style="font-family:Liberation Serif,serif;font-style:italic" font-size="9.5">ϵ</tspan>=0.1</text>
<path d="M469.5 97.50H498" stroke="#EEA800" stroke-width="2.6"/>
<text x="500" y="101.80" font-size="10.6" letter-spacing="0.22">CBL: <tspan style="font-family:Liberation Serif,serif;font-style:italic" font-size="9.5">ϵ</tspan>=0.1</text>
<path d="M469.5 113.00H498" stroke="#6E1A7E" stroke-width="2.6"/>
<text x="500" y="117.30" font-size="10.6" letter-spacing="0.22">KQL: <tspan style="font-family:Liberation Serif,serif;font-style:italic" font-size="11">γ</tspan>=0.99, <tspan style="font-family:Liberation Serif,serif;font-style:italic" font-size="9.5">ϵ</tspan>=0.1</text>
<path d="M637.3 2H640V12H637.3V10.4Q638.5 10.2 638.7 9.4V4.6Q638.5 3.8 637.3 3.6Z" fill="#111"/>
<path d="M636.8 386.2L640 385.8V388.6L638.6 387.4Z" fill="#111"/><rect x="638.9" y="399.4" width="1.1" height="1.6" fill="#222"/>
</svg></body></html>
